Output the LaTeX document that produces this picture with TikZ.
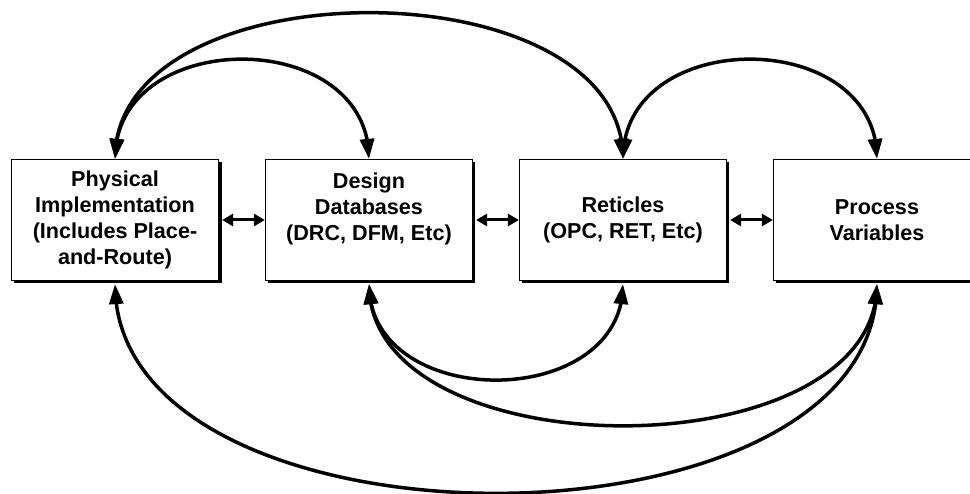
\documentclass[tikz,border=0pt]{standalone}
\usepackage{fontspec}
\setmainfont{Liberation Sans}
\usetikzlibrary{arrows.meta,shadows,positioning,bending}
\tikzset{
  box/.style={draw, fill=white, line width=1.2pt, minimum width=207pt, minimum height=121pt,
    inner sep=0pt, align=center, font=\fontsize{21.6}{26}\selectfont\bfseries,
    drop shadow={shadow xshift=3pt, shadow yshift=-3pt, fill=black, opacity=1}},
  link/.style={line width=3.5pt, {Triangle[length=20pt,width=14pt]}-{Triangle[length=20pt,width=14pt]}},
  pair/.style={line width=3pt, {Triangle[length=11pt,width=12pt]}-{Triangle[length=11pt,width=12pt]}}
}
\begin{document}
\begin{tikzpicture}[x=1pt,y=-1pt]
  \clip (0,0) rectangle (970,494);
  \matrix[column sep={254pt,between origins}] at (496,220) {
    \node[box] (phys) {Physical\\Implementation\\(Includes Place-\\and-Route)}; &
    \node[box] (db) {Design\\Databases\\(DRC, DFM, Etc)\\\mbox{}}; &
    \node[box] (ret) {Reticles\\(OPC, RET, Etc)}; &
    \node[box] (proc) {Process\\Variables}; \\
  };
  \draw[pair] ([xshift=3pt]phys.east) -- (db.west);
  \draw[pair] ([xshift=3pt]db.east) -- (ret.west);
  \draw[pair] ([xshift=3pt]ret.east) -- (proc.west);
  \draw[link] (phys.north) .. controls +(0,-133) and +(0,-133) .. (db.north);
  \draw[link] (phys.north) .. controls +(0,-195) and +(0,-195) .. (ret.north);
  \draw[link] (ret.north) .. controls +(0,-133) and +(0,-133) .. (proc.north);
  \draw[link] ([yshift=-3pt]db.south) .. controls +(0,128) and +(0,128) .. ([yshift=-3pt]ret.south);
  \draw[link] ([yshift=-3pt]db.south) .. controls +(0,189) and +(0,189) .. ([yshift=-3pt]proc.south);
  \draw[link] ([yshift=-3pt]phys.south) .. controls +(0,279) and +(0,279) .. ([yshift=-3pt]proc.south);
\end{tikzpicture}
\end{document}
